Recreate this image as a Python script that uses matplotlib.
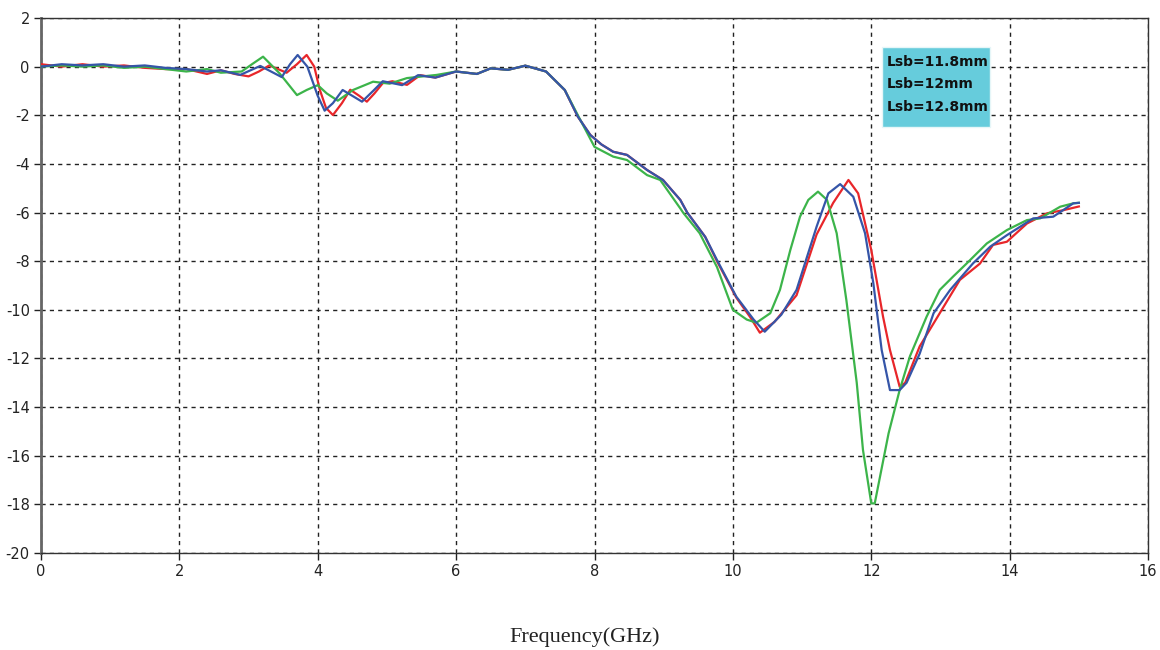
import matplotlib
matplotlib.use("Agg")
import matplotlib.pyplot as plt
from matplotlib.patches import Rectangle

# Lsb = 11.8 mm (red)
freq_118 = [0, 0.3, 0.6, 0.9, 1.2, 1.5, 1.8, 2.1, 2.4, 2.6, 2.8, 3.0, 3.15, 3.3, 3.55, 3.7,
            3.84, 3.95, 4.03, 4.12, 4.22, 4.35, 4.47, 4.6, 4.71, 4.82, 4.94, 5.08, 5.29, 5.48,
            5.7, 6.0, 6.3, 6.5, 6.75, 7.0, 7.3, 7.57, 7.76, 7.94, 8.1, 8.27, 8.47, 8.76, 8.99,
            9.24, 9.34, 9.6, 9.77, 10.05, 10.25, 10.39, 10.6, 10.92, 11.21, 11.45, 11.67, 11.81,
            12.0, 12.17, 12.27, 12.41, 12.49, 12.7, 12.9, 13.04, 13.28, 13.57, 13.76, 13.96,
            14.25, 14.54, 14.78, 15.0]
s11_118 = [0.1, 0.0, 0.1, 0.0, 0.05, -0.05, -0.1, -0.1, -0.3, -0.15, -0.3, -0.4, -0.2, 0.05,
           -0.25, 0.1, 0.48, 0.0, -0.95, -1.7, -1.99, -1.5, -0.95, -1.2, -1.44, -1.1, -0.68,
           -0.6, -0.75, -0.35, -0.45, -0.2, -0.3, -0.07, -0.13, 0.04, -0.2, -0.96, -2.06, -2.81,
           -3.2, -3.5, -3.63, -4.25, -4.66, -5.48, -6.0, -7.0, -8.0, -9.5, -10.3, -10.94, -10.5,
           -9.4, -6.9, -5.6, -4.66, -5.21, -7.54, -10.28, -11.65, -13.16, -13.0, -11.5, -10.56,
           -9.9, -8.77, -8.1, -7.33, -7.2, -6.45, -6.03, -5.9, -5.75]

# Lsb = 12 mm (blue)
freq_12 = [0, 0.3, 0.6, 0.9, 1.2, 1.5, 1.8, 2.1, 2.4, 2.6, 2.88, 3.17, 3.48, 3.6, 3.71, 3.85,
           4.0, 4.1, 4.22, 4.36, 4.5, 4.64, 4.8, 4.94, 5.22, 5.45, 5.7, 6.0, 6.3, 6.5, 6.75, 7.0,
           7.3, 7.57, 7.76, 7.94, 8.1, 8.27, 8.47, 8.76, 8.99, 9.24, 9.34, 9.6, 9.77, 10.05, 10.3,
           10.46, 10.7, 10.92, 11.21, 11.38, 11.55, 11.74, 11.91, 12.03, 12.15, 12.27, 12.41,
           12.51, 12.7, 12.9, 13.14, 13.47, 13.72, 13.96, 14.34, 14.63, 14.92, 15.0]
s11_12 = [0.0, 0.1, 0.05, 0.1, 0.0, 0.05, -0.05, -0.1, -0.2, -0.15, -0.34, 0.03, -0.43, 0.1,
          0.48, 0.0, -1.2, -1.81, -1.5, -0.96, -1.2, -1.44, -1.0, -0.6, -0.76, -0.35, -0.45,
          -0.2, -0.3, -0.07, -0.13, 0.04, -0.2, -0.96, -2.06, -2.81, -3.2, -3.5, -3.63, -4.25,
          -4.66, -5.48, -6.0, -7.0, -7.95, -9.46, -10.4, -10.9, -10.2, -9.18, -6.58, -5.21,
          -4.83, -5.35, -6.85, -8.91, -11.65, -13.3, -13.3, -13.0, -11.8, -10.14, -9.18, -8.09,
          -7.4, -6.93, -6.24, -6.17, -5.62, -5.6]

# Lsb = 12.8 mm (green)
freq_128 = [0, 0.3, 0.6, 0.9, 1.2, 1.5, 1.8, 2.1, 2.4, 2.6, 2.9, 3.05, 3.21, 3.45, 3.7, 3.84,
            4.0, 4.13, 4.29, 4.51, 4.8, 5.04, 5.29, 5.72, 6.0, 6.3, 6.5, 6.75, 7.0, 7.3, 7.57,
            7.76, 8.0, 8.27, 8.47, 8.76, 8.95, 9.24, 9.28, 9.52, 9.77, 10.0, 10.2, 10.34, 10.54,
            10.68, 10.83, 10.97, 11.09, 11.23, 11.36, 11.5, 11.64, 11.79, 11.88, 12.0, 12.05,
            12.25, 12.41, 12.56, 12.8, 12.99, 13.18, 13.38, 13.67, 13.96, 14.25, 14.44, 14.73,
            14.92, 15.0]
s11_128 = [0.0, 0.05, 0.0, 0.05, -0.05, 0.0, -0.1, -0.2, -0.1, -0.25, -0.2, 0.1, 0.41, -0.28,
           -1.17, -0.96, -0.76, -1.1, -1.4, -0.96, -0.62, -0.7, -0.47, -0.34, -0.2, -0.3, -0.07,
           -0.13, 0.04, -0.2, -0.96, -2.0, -3.3, -3.7, -3.84, -4.46, -4.66, -5.83, -6.0, -6.85,
           -8.24, -10.0, -10.4, -10.53, -10.14, -9.18, -7.54, -6.17, -5.48, -5.14, -5.48, -6.85,
           -9.6, -13.0, -15.76, -17.96, -17.96, -15.08, -13.3, -11.9, -10.28, -9.18, -8.64,
           -8.09, -7.27, -6.72, -6.31, -6.24, -5.76, -5.62, -5.6]

legend_labels = ["Lsb=11.8mm", "Lsb=12mm", "Lsb=12.8mm"]
x_ticks = list(range(0, 17, 2))
y_ticks = list(range(-20, 3, 2))


def main():
    plt.rcParams["axes.unicode_minus"] = False

    fig = plt.figure(figsize=(11.6, 6.5), dpi=100)
    ax = fig.add_axes([0.0353, 0.1492, 0.9544, 0.8231])

    ax.plot(freq_118, s11_118, color="#e8262a", lw=1.6, zorder=3)
    ax.plot(freq_128, s11_128, color="#3cb44a", lw=1.6, zorder=3)
    ax.plot(freq_12, s11_12, color="#3555a8", lw=1.6, zorder=4)

    ax.set_xlim(0, 16)
    ax.set_ylim(-20, 2)
    ax.set_xticks(x_ticks)
    ax.set_yticks(y_ticks)
    ax.grid(True, color="#222222", linestyle=(0, (3, 3)), lw=1.0)
    ax.tick_params(direction="out", length=5, width=1, colors="#222222",
                   labelsize=10.5, pad=3)
    for side in ["top", "right", "bottom"]:
        ax.spines[side].set_color("#333333")
        ax.spines[side].set_linewidth(1.0)
    ax.spines["left"].set_color("#666666")
    ax.spines["left"].set_linewidth(2.0)

    # text-only legend box
    fig.patches.append(Rectangle((882 / 1160, 1 - 127 / 650), 108 / 1160, 80 / 650,
                                 transform=fig.transFigure, facecolor="#66ccdc",
                                 edgecolor="#e6f6f8", lw=1.0, zorder=5))
    for i, label in enumerate(legend_labels):
        fig.text(887 / 1160, 1 - (62 + i * 22.5) / 650, label, fontsize=10,
                 fontweight="bold", color="#111111", va="center", ha="left", zorder=6)

    fig.text(585 / 1160, 1 - 637 / 650, "Frequency(GHz)", fontsize=16,
             family="Liberation Serif", color="#222222", ha="center", va="center")

    fig.savefig("out.png", dpi=100)
    plt.close(fig)


if __name__ == "__main__":
    main()
